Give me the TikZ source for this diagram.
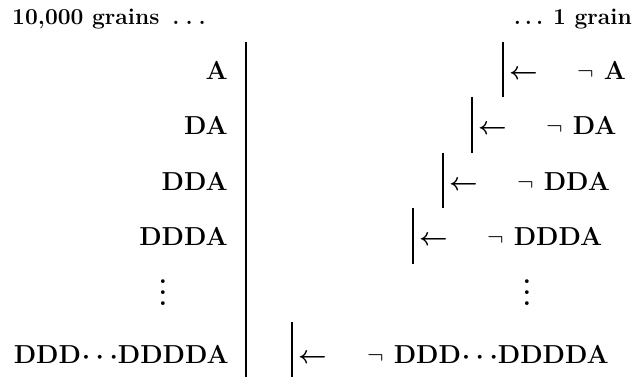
\documentclass[tikz,border=0pt]{standalone}
\usepackage{fontspec}
% spaced dots used in the row labels and headings
\newcommand\hdots[1]{.\hspace{#1}.\hspace{#1}.}
\newcommand\rowcdots{\hbox{\boldmath\kern1pt$\cdot$\kern6pt$\cdot$\kern6pt$\cdot$\kern0pt}}
\newcommand\colvdots{\vbox{\baselineskip=11pt\lineskiplimit=-20pt\hbox{.}\hbox{.}\hbox{.}}}
\begin{document}
\begin{tikzpicture}[x=1pt,y=-1pt,
  lbl/.style={inner sep=0pt, font=\fontsize{26}{30}\selectfont\bfseries},
  hdr/.style={inner sep=0pt, font=\fontsize{22.8}{26}\selectfont\bfseries},
  arr/.style={lbl, anchor=base west, font=\fontsize{26}{30}\selectfont\boldmath},
  rulebar/.style={line width=1.4pt}]
\useasboundingbox (0,0) rectangle (637,377);

% headings
\node[hdr, anchor=base west] (hl) at (12,25) {10,000 grains\hspace{13pt}\hdots{6pt}};
\node[hdr, anchor=base east] (hr) at (632,25) {\hdots{4pt}\hspace{10pt}1 grain};

% left column: the strings
\node[lbl, anchor=base east] (l1) at (228,80)  {A};
\node[lbl, anchor=base east] (l2) at (228,135) {DA};
\node[lbl, anchor=base east] (l3) at (228,190) {DDA};
\node[lbl, anchor=base east] (l4) at (228,245) {DDDA};
\node[lbl] (ld) at (163,293) {\colvdots};
\node[lbl, anchor=base east] (l5) at (229,363) {DDD\rowcdots DDDDA};

% long separating rule
\coordinate (lt) at (246,42);
\coordinate (lb) at (246,377);
\draw[rulebar] (lt) -- (lb);

% right column: staircase of bars, arrows and negations
\coordinate (b1t) at (503,42);  \coordinate (b1b) at (503,97);
\coordinate (b2t) at (472,97);  \coordinate (b2b) at (472,153);
\coordinate (b3t) at (443,153); \coordinate (b3b) at (443,208);
\coordinate (b4t) at (413,208); \coordinate (b4b) at (413,264);
\coordinate (b5t) at (292,322); \coordinate (b5b) at (292,377);
\foreach \i in {1,...,5} \draw[rulebar] (b\i t) -- (b\i b);

\node[arr] (a1) at (509,80)  {$\leftarrow$};
\node[arr] (a2) at (478,135) {$\leftarrow$};
\node[arr] (a3) at (449,190) {$\leftarrow$};
\node[arr] (a4) at (419,245) {$\leftarrow$};
\node[arr] (a5) at (298,363) {$\leftarrow$};

\node[lbl, anchor=base west] (r1) at (577,80)  {$\neg$\hspace{10pt}A};
\node[lbl, anchor=base west] (r2) at (546,135) {$\neg$\hspace{10pt}DA};
\node[lbl, anchor=base west] (r3) at (517,190) {$\neg$\hspace{10pt}DDA};
\node[lbl, anchor=base west] (r4) at (487,245) {$\neg$\hspace{10pt}DDDA};
\node[lbl] (rd) at (527,293) {\colvdots};
\node[lbl, anchor=base west] (r5) at (367,363) {$\neg$\hspace{10pt}DDD\rowcdots DDDDA};
\end{tikzpicture}
\end{document}
